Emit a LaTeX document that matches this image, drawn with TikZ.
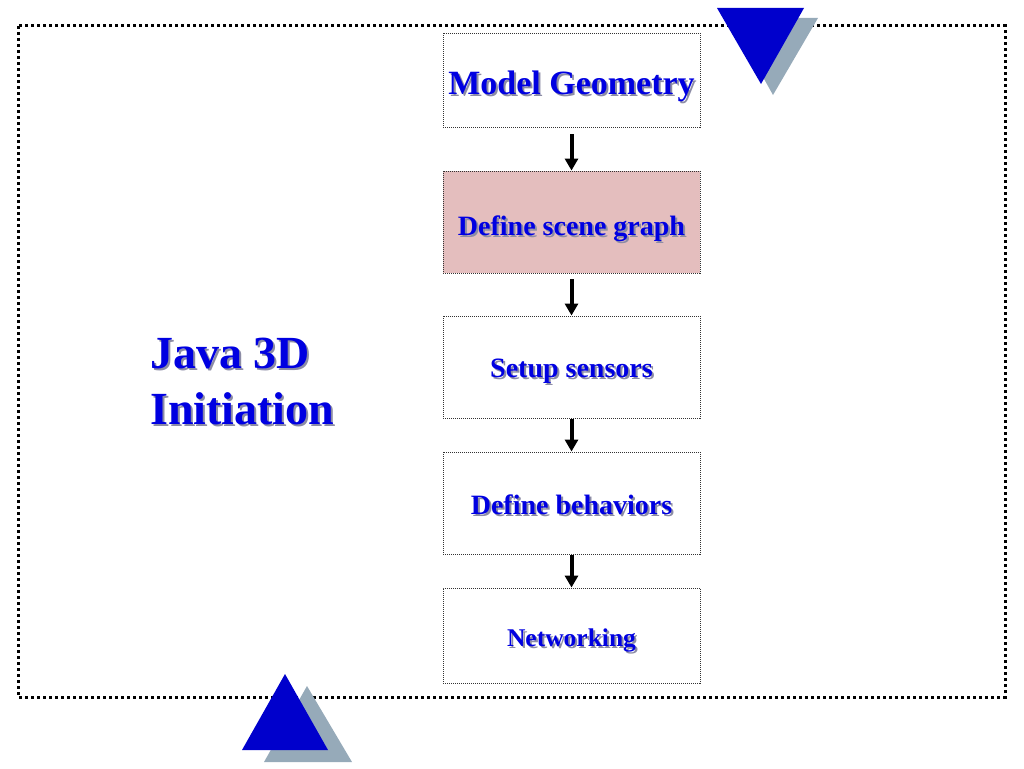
\documentclass[tikz,border=0pt]{standalone}
\usepackage{fontspec}
\setmainfont{Liberation Serif}
\usepackage{tikz}
\usetikzlibrary{arrows.meta}
\usetikzlibrary{positioning}

\definecolor{titleblue}{RGB}{0,0,225}
\definecolor{triblue}{RGB}{0,0,204}
\definecolor{trigray}{RGB}{150,170,185}
\definecolor{shadegray}{RGB}{140,140,165}
\definecolor{rosefill}{RGB}{228,190,190}

\newcommand{\shtext}[1]{\leavevmode\rlap{\hspace{2pt}\raisebox{-2pt}{\color{shadegray}#1}}#1}

\tikzset{
    stepbox/.style={draw=black!80, line width=0.9pt, dash pattern=on 1pt off 1pt,
        minimum width=257pt, inner sep=0pt, text=titleblue, text depth=0pt},
    flowarrow/.style={-{Triangle[length=12pt, width=13pt]}, line width=4pt, black},
    frameline/.style={line width=3pt, dash pattern=on 3pt off 3pt, black}
}

\begin{document}
\begin{tikzpicture}[x=1pt, y=-1pt]
\useasboundingbox (0,0) rectangle (1024,768);
\draw[frameline] (18,26) rectangle (1005,697);
\fill[trigray] (730,18) -- (818,18) -- (773,95) -- cycle;
\fill[triblue] (717,8) -- (804,8) -- (761,84) -- cycle;
\fill[trigray] (307,686) -- (352,762) -- (264,762) -- cycle;
\fill[triblue] (285,674) -- (328,750) -- (242,750) -- cycle;

\node[stepbox, minimum height=94pt, text height=28pt, font=\bfseries\fontsize{34}{36}\selectfont] (geometry) at (571.5,80) {\shtext{Model Geometry}};
\node[stepbox, minimum height=102pt, text height=26pt, fill=rosefill, font=\bfseries\fontsize{28}{30}\selectfont] (scene) at (571.5,222) {\shtext{Define scene graph}};
\node[stepbox, minimum height=102pt, text height=20pt, font=\bfseries\fontsize{28}{30}\selectfont] (sensors) at (571.5,367) {\shtext{Setup sensors}};
\node[stepbox, minimum height=102pt, text height=22pt, font=\bfseries\fontsize{28}{30}\selectfont] (behaviors) at (571.5,503) {\shtext{Define behaviors}};
\node[stepbox, minimum height=95pt, text height=21pt, font=\bfseries\fontsize{25.5}{28}\selectfont] (network) at (571.5,635.5) {\shtext{Networking}};

\draw[flowarrow] ([yshift=-7pt]geometry.south) -- (scene.north);
\draw[flowarrow] ([yshift=-6pt]scene.south) -- (sensors.north);
\draw[flowarrow] ([yshift=-1pt]sensors.south) -- (behaviors.north);
\draw[flowarrow] ([yshift=-1pt]behaviors.south) -- (network.north);

\node[anchor=west, align=left, text=titleblue, font=\bfseries\fontsize{46}{56}\selectfont, inner sep=0pt] (title) at (150,382) {\shtext{Java 3D}\\\shtext{Initiation}};
\end{tikzpicture}
\end{document}
